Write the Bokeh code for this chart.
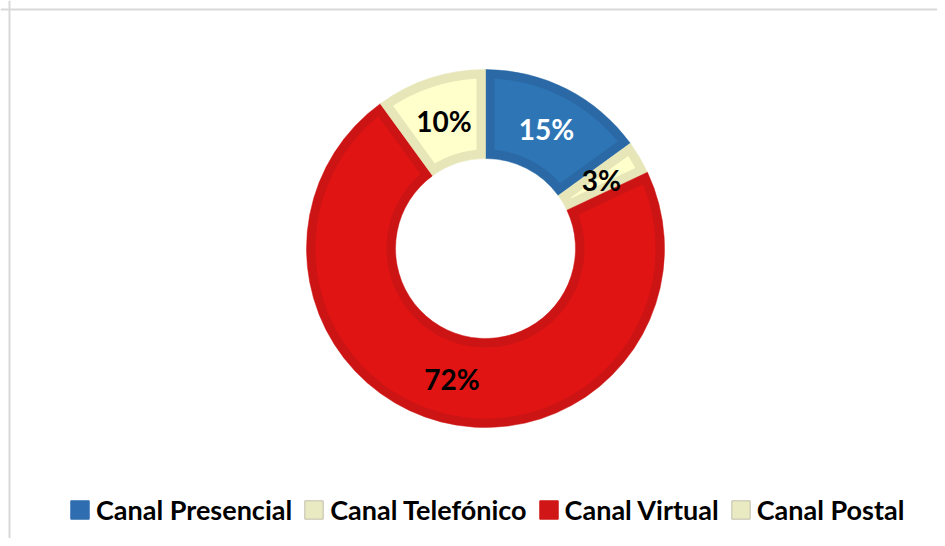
import numpy as np
from bokeh.plotting import figure
from bokeh.models import Range1d, Span, Legend, LegendItem, ColumnDataSource
from bokeh.core.properties import value
from bokeh.embed import file_html
from bokeh.resources import INLINE

# ---- data ----
categories = ["Canal Presencial", "Canal Telefónico", "Canal Virtual", "Canal Postal"]
shares = [15, 3, 72, 10]
labels = ["15%", "3%", "72%", "10%"]
fill_colors = ["#2E75B6", "#FFFFCC", "#E11414", "#FFFFCC"]
band_colors = ["#2A69A6", "#E6E6B9", "#CC1414", "#E6E6B9"]
legend_colors = ["#2E6DB0", "#EAEAC2", "#D01616", "#EAEAC2"]
legend_lines = ["#2E6DB0", "#BFBFAF", "#D01616", "#BFBFAF"]
label_colors = ["white", "black", "black", "black"]

# ---- layout ----
W, H = 937, 538
cx, cy = 485, H - 248
r_in, r_out = 90, 179
band = 9
FONT = "Lato"

p = figure(width=W, height=H, output_backend="svg", toolbar_location=None,
           x_range=Range1d(0, W), y_range=Range1d(0, H), min_border=0)
p.axis.visible = False
p.grid.visible = False
p.outline_line_color = None
p.background_fill_color = "white"

vals = np.array(shares, dtype=float)
frac = vals / vals.sum()
cum = np.concatenate([[0], np.cumsum(frac)])
start = np.pi / 2 - 2 * np.pi * cum[:-1]
end = np.pi / 2 - 2 * np.pi * cum[1:]

src = ColumnDataSource(dict(start=start, end=end, band=band_colors))
p.annular_wedge(x=cx, y=cy, inner_radius=r_in, outer_radius=r_out,
                start_angle="start", end_angle="end", direction="clock",
                fill_color="band", line_color="band", line_width=0.5, source=src)

# inner (lighter) fill polygons, inset by the band width
xs, ys = [], []
Ro, Ri = r_out - band, r_in + band
for a1, a2 in zip(start, end):
    o1, o2 = a1 - np.arcsin(band / Ro), a2 + np.arcsin(band / Ro)
    i1, i2 = a1 - np.arcsin(band / Ri), a2 + np.arcsin(band / Ri)
    ta = np.linspace(o1, o2, 120)
    ti = np.linspace(i2, i1, 80)
    xs.append(list(cx + Ro * np.cos(ta)) + list(cx + Ri * np.cos(ti)))
    ys.append(list(cy + Ro * np.sin(ta)) + list(cy + Ri * np.sin(ti)))
p.patches(xs=xs, ys=ys, fill_color=fill_colors, line_color=None)

mid = (start + end) / 2
rm = (r_in + r_out) / 2
p.text(x=list(cx + rm * np.cos(mid)), y=list(cy + rm * np.sin(mid)), text=labels,
       text_color=label_colors, text_font=value(FONT), text_font_style="bold",
       text_font_size="28px", text_align="center", text_baseline="middle")

# chart border (left & top visible)
p.add_layout(Span(location=9, dimension="height", line_color="#D9D9D9", line_width=2))
p.add_layout(Span(location=H - 9, dimension="width", line_color="#D9D9D9", line_width=2))

# legend (swatch renderers sit outside the visible range)
items = []
for name, col, lc in zip(categories, legend_colors, legend_lines):
    r = p.quad(left=[-50], right=[-40], top=[-40], bottom=[-50], fill_color=col,
               line_color=lc, line_width=1)
    items.append(LegendItem(label=name, renderers=[r]))
leg = Legend(items=items, orientation="horizontal", location=(68, 12),
             glyph_width=23, glyph_height=23, label_standoff=5, spacing=10,
             padding=0, margin=0, border_line_color=None, background_fill_alpha=0,
             label_text_font=FONT, label_text_font_style="bold",
             label_text_font_size="27px", label_text_color="black")
p.add_layout(leg)

open("out.html", "w").write(file_html(p, INLINE))
